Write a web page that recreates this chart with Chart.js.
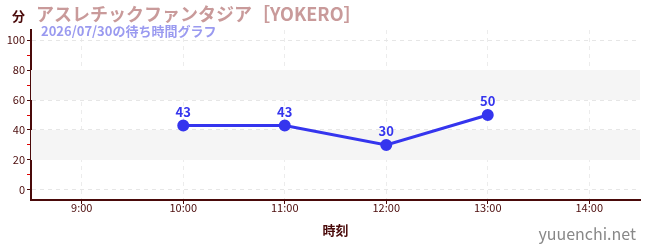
<!DOCTYPE html>
<html>
<head>
<meta charset="utf-8">
<script src="https://cdn.jsdelivr.net/npm/chart.js@4.4.1/dist/chart.umd.min.js"></script>
<style>
  html, body { margin: 0; padding: 0; background: #fff; }
  #wrap { position: relative; width: 650px; height: 250px; }
</style>
</head>
<body>
<div id="wrap"><canvas id="waitChart" width="650" height="250"></canvas></div>
<script>
// donnees du graphique
var hours = ["9:00", "10:00", "11:00", "12:00", "13:00", "14:00"];
var waitTimes = [null, 43, 43, 30, 50, null];
var yTicks = [0, 20, 40, 60, 80, 100];
var bands = [[20, 40], [60, 80]];

var titleText = "アスレチックファンタジア［YOKERO］";
var subTitleText = "2026/07/30の待ち時間グラフ";
var FONT = "'Noto Sans CJK JP', 'Noto Sans', sans-serif";

// bandes grises + textes
var decor = {
	id: 'decor',
	beforeDatasetsDraw: function(chart) {
		var c = chart.ctx, y = chart.scales.y, a = chart.chartArea;
		c.save();
		c.fillStyle = '#f5f5f5';
		bands.forEach(function(b) {
			var top = y.getPixelForValue(b[1]);
			var bot = y.getPixelForValue(b[0]);
			c.fillRect(a.left, top, a.right - a.left, bot - top);
		});
		c.restore();
	},
	afterDraw: function(chart) {
		var c = chart.ctx;
		c.save();
		c.textBaseline = 'middle';
		c.textAlign = 'left';
		c.fillStyle = '#4a0a0a';
		c.font = 'bold 13px ' + FONT;
		c.fillText("分", 12, 16);
		c.fillStyle = '#c99a9a';
		c.font = 'bold 18px ' + FONT;
		c.fillText(titleText, 36, 14);
		c.fillStyle = '#9a9af0';
		c.font = 'bold 13px ' + FONT;
		c.fillText(subTitleText, 41, 31);
		c.fillStyle = '#888888';
		c.font = '16px ' + FONT;
		c.textAlign = 'right';
		c.fillText("yuuenchi.net", 636, 234);
		// etiquettes des points
		c.textAlign = 'center';
		c.textBaseline = 'bottom';
		c.fillStyle = '#3535ee';
		c.font = 'bold 13px ' + FONT;
		var meta = chart.getDatasetMeta(0);
		meta.data.forEach(function(pt, i) {
			if (waitTimes[i] == null) return;
			c.fillText(String(waitTimes[i]), pt.x, pt.y - 7);
		});
		c.restore();
	}
};

var ctx = document.getElementById('waitChart').getContext('2d');
var waitChart = new Chart(ctx, {
	type: 'line',
	data: {
		labels: hours,
		datasets: [{
			data: waitTimes,
			borderColor: '#3535ee',
			backgroundColor: '#3535ee',
			borderWidth: 3,
			pointRadius: 4.5,
			pointHoverRadius: 4.5,
			spanGaps: false,
			tension: 0
		}]
	},
	options: {
		responsive: false,
		animation: false,
		layout: { padding: { top: 30, right: 10, left: 0, bottom: 8 } },
		plugins: { legend: { display: false }, tooltip: { enabled: false } },
		scales: {
			x: {
				offset: true,
				grid: {
					offset: false,
					color: '#ececec',
					tickColor: '#4a0a0a',
					tickLength: 4,
					drawOnChartArea: true
				},
				border: { color: '#4a0a0a', width: 2, dash: [4, 4] },
				ticks: { color: '#4a0a0a', font: { family: FONT, size: 11 }, padding: -3 },
				title: { display: true, text: '時刻', color: '#4a0a0a', font: { family: FONT, size: 13, weight: 'bold' }, padding: { top: 4 } },
				afterFit: function(s) { s.height = 42; }
			},
			y: {
				min: -6.67,
				max: 106.67,
				afterBuildTicks: function(s) {
					var t = [];
					for (var v = 0; v <= 100; v += 10) t.push({ value: v });
					s.ticks = t;
				},
				grid: {
					color: function(c) { return (c.tick && c.tick.value % 20 === 0) ? '#e6e6e6' : 'rgba(0,0,0,0)'; },
					tickColor: function(c) { return (c.tick && c.tick.value % 20 === 0) ? '#4a0a0a' : '#dd0000'; },
					tickLength: 4
				},
				border: { color: '#4a0a0a', width: 2, dash: [4, 4] },
				ticks: {
					color: '#4a0a0a',
					font: { family: FONT, size: 11 },
					padding: 2,
					callback: function(v) { return v % 20 === 0 ? v : ''; }
				},
				afterFit: function(s) { s.width = 31; }
			}
		}
	},
	plugins: [decor]
});
</script>
</body>
</html>
